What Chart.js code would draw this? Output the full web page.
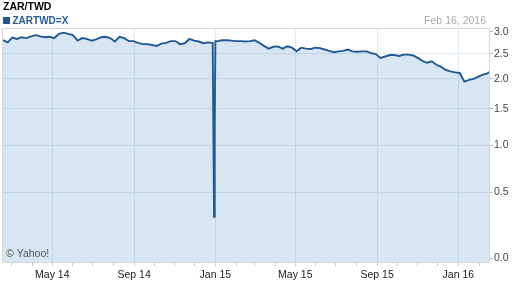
<!DOCTYPE html>
<html>
<head>
<meta charset="utf-8">
<script src="https://cdn.jsdelivr.net/npm/chart.js@4"></script>
<style>
  html, body { margin: 0; padding: 0; background: #fff; }
  canvas { display: block; }
</style>
</head>
<body>
<canvas id="fxChart" width="512" height="288"></canvas>
<script>
// days after 16 Feb 2014 (weekly readings, plus the glitch around new year 2015)
const dayOffsets = [
  0, 7, 14, 21, 28, 35, 42, 49, 56, 63, 70, 77, 84, 91, 98, 105, 112, 119, 126, 133,
  140, 147, 154, 161, 168, 175, 182, 189, 196, 203, 210, 217, 224, 231, 238, 245, 252, 259, 266, 273,
  280, 287, 294, 301, 308, 315, 316, 317, 318, 319,
  322, 329, 336, 343, 350, 357, 364, 371, 378, 385, 392, 399, 406, 413, 420, 427, 434, 441, 448, 455,
  462, 469, 476, 483, 490, 497, 504, 511, 518, 525, 532, 539, 546, 553, 560, 567, 574, 581, 588, 595,
  602, 609, 616, 623, 630, 637, 644, 651, 658, 665, 672, 679, 686, 693, 700, 707, 714, 721, 728, 730
];

// ZAR/TWD close
const rates = [
  2.80, 2.75, 2.86, 2.83, 2.87, 2.85, 2.89, 2.92, 2.89, 2.87, 2.88, 2.85, 2.95, 2.98, 2.95, 2.92, 2.79, 2.85, 2.83, 2.79,
  2.82, 2.87, 2.88, 2.85, 2.77, 2.88, 2.85, 2.78, 2.78, 2.74, 2.71, 2.71, 2.69, 2.67, 2.72, 2.74, 2.78, 2.78, 2.71, 2.73,
  2.83, 2.79, 2.77, 2.73, 2.75, 2.74, 1.22, 0.29, 1.22, 2.78,
  2.78, 2.80, 2.80, 2.79, 2.78, 2.78, 2.77, 2.78, 2.80, 2.74, 2.67, 2.61, 2.65, 2.66, 2.61, 2.66, 2.63, 2.55, 2.63, 2.61,
  2.60, 2.63, 2.62, 2.59, 2.56, 2.53, 2.55, 2.56, 2.59, 2.55, 2.54, 2.55, 2.55, 2.51, 2.49, 2.41, 2.44, 2.47, 2.47, 2.45,
  2.48, 2.48, 2.46, 2.41, 2.35, 2.31, 2.34, 2.27, 2.23, 2.17, 2.14, 2.12, 2.11, 1.95, 1.98, 2.00, 2.04, 2.08, 2.10, 2.13
];

// first day of each month, Mar 2014 .. Feb 2016
const monthDays = [13, 44, 74, 105, 135, 166, 197, 227, 258, 288, 319, 350,
                   378, 409, 439, 470, 500, 531, 562, 592, 623, 653, 684, 715];
const monthLabels = ['', '', 'May 14', '', '', '', 'Sep 14', '', '', '', 'Jan 15', '',
                     '', '', 'May 15', '', '', '', 'Sep 15', '', '', '', 'Jan 16', ''];

const rateTicks = [0, 0.5, 1.0, 1.5, 2.0, 2.5, 3.0];

const FONT = '"Liberation Sans", Arial, sans-serif';

// y axis is compressed like log(1 + v)
class Log1pScale extends Chart.LinearScale {
  configure() {
    super.configure();
    this._startValue = Math.log1p(this.min);
    this._valueRange = Math.log1p(this.max) - this._startValue;
  }
  getPixelForValue(value) {
    return this.getPixelForDecimal((Math.log1p(value) - this._startValue) / this._valueRange);
  }
  getValueForPixel(pixel) {
    return Math.expm1(this._startValue + this.getDecimalForPixel(pixel) * this._valueRange);
  }
}
Log1pScale.id = 'log1p';
Log1pScale.defaults = Chart.LinearScale.defaults;
Chart.register(Log1pScale);

const frame = {
  id: 'frame',
  afterDraw(chart) {
    const { ctx, chartArea: a } = chart;
    ctx.save();
    ctx.strokeStyle = '#d6d6d6';
    ctx.lineWidth = 1;
    ctx.strokeRect(Math.round(a.left) - 0.5, Math.round(a.top) - 0.5,
                   Math.round(a.right - a.left) + 1, Math.round(a.bottom - a.top) + 1);

    ctx.textBaseline = 'alphabetic';
    ctx.textAlign = 'left';
    ctx.fillStyle = '#000';
    ctx.font = 'bold 10.5px ' + FONT;
    ctx.fillText('ZAR/TWD', 3, 10);

    ctx.fillStyle = '#1f5a94';
    ctx.fillRect(3, 17, 7, 7);
    ctx.fillStyle = '#2a5d96';
    ctx.font = 'bold 10px ' + FONT;
    ctx.fillText('ZARTWD=X', 12.5, 24);

    ctx.fillStyle = '#aaaaaa';
    ctx.font = '10.5px ' + FONT;
    ctx.textAlign = 'right';
    ctx.fillText('Feb 16, 2016', 486, 24);

    ctx.textAlign = 'left';
    ctx.fillStyle = '#555';
    ctx.fillText('\u00A9 Yahoo!', 6, 256.5);
    ctx.restore();
  }
};

const ctx = document.getElementById('fxChart').getContext('2d');
new Chart(ctx, {
  type: 'line',
  data: {
    datasets: [{
      label: 'ZARTWD=X',
      data: dayOffsets.map((d, i) => ({ x: d, y: rates[i] })),
      borderColor: '#1f5a94',
      borderWidth: 1.9,
      backgroundColor: 'rgba(56,132,192,0.2)',
      fill: 'start',
      pointRadius: 0,
      tension: 0
    }]
  },
  options: {
    responsive: false,
    animation: false,
    layout: { padding: { left: 3, top: 29, right: 0, bottom: 0 } },
    plugins: {
      legend: { display: false },
      title: { display: false },
      tooltip: { enabled: false }
    },
    scales: {
      x: {
        type: 'linear',
        min: 0,
        max: 730,
        afterBuildTicks: s => { s.ticks = monthDays.map(d => ({ value: d })); },
        afterFit: s => { s.height = 26; },
        ticks: {
          autoSkip: false,
          maxRotation: 0,
          padding: 3,
          color: '#222',
          font: { family: FONT, size: 10.5 },
          callback: (v, i) => monthLabels[i]
        },
        grid: {
          color: c => monthLabels[c.index] ? '#e2ecf5' : 'rgba(0,0,0,0)',
          tickColor: '#cccccc',
          tickLength: 4
        },
        border: { color: '#d6d6d6' }
      },
      y: {
        type: 'log1p',
        position: 'right',
        min: -0.0223,
        max: 3.07,
        afterBuildTicks: s => { s.ticks = rateTicks.map(v => ({ value: v })); },
        afterFit: s => { s.width = 23; },
        ticks: {
          padding: 1,
          color: '#444',
          font: { family: FONT, size: 10.5 },
          callback: v => v.toFixed(1)
        },
        grid: {
          color: c => (c.index === 0 || c.index === rateTicks.length - 1) ? 'rgba(0,0,0,0)' : '#e2ecf5',
          tickColor: '#bbbbbb',
          tickLength: 4
        },
        border: { color: '#d6d6d6' }
      }
    }
  },
  plugins: [frame]
});
</script>
</body>
</html>
